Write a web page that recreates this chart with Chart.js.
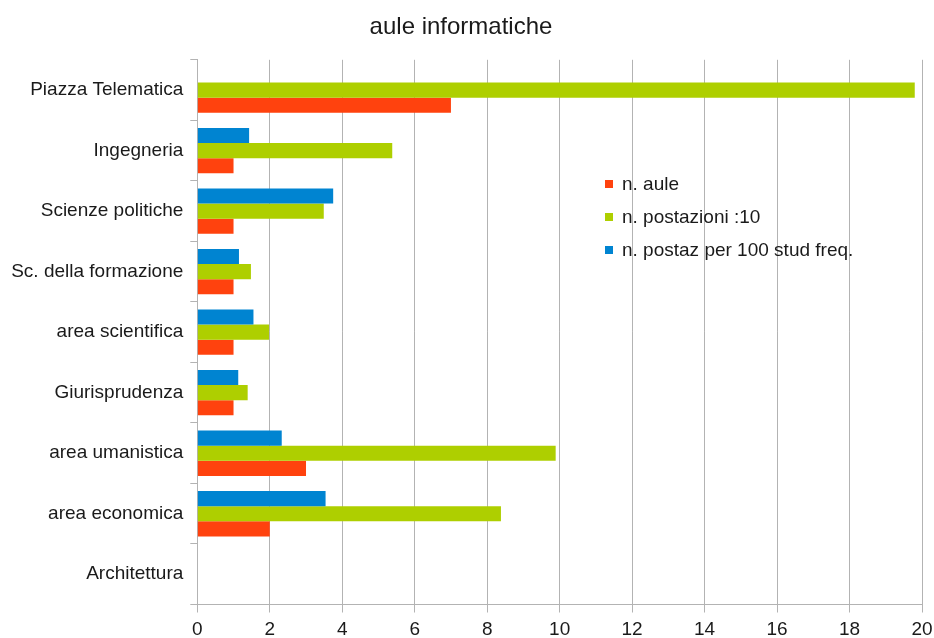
<!DOCTYPE html>
<html>
<head>
<meta charset="utf-8">
<title>aule informatiche</title>
<script src="https://cdn.jsdelivr.net/npm/chart.js@4/dist/chart.umd.min.js"></script>
<style>
  html, body { margin: 0; padding: 0; background: #fff; }
  #wrap { position: relative; width: 934px; height: 638px; }
</style>
</head>
<body>
<div id="wrap"><canvas id="chart"></canvas></div>
<script>
// Categories top to bottom, as in the reference
const categories = [
    'Piazza Telematica', 'Ingegneria', 'Scienze politiche', 'Sc. della formazione',
    'area scientifica', 'Giurisprudenza', 'area umanistica', 'area economica', 'Architettura'
];

// Series values (null = no bar)
const postazPer100 = [null, 1.43, 3.75, 1.15, 1.55, 1.13, 2.33, 3.54, null];
const postazioni10 = [19.8, 5.38, 3.49, 1.48, 1.98, 1.39, 9.89, 8.38, null];
const nAule        = [7, 1, 1, 1, 1, 1, 3, 2, null];

const xTicks = [0, 2, 4, 6, 8, 10, 12, 14, 16, 18, 20];

const FONT = '"Liberation Sans", Arial, Helvetica, sans-serif';
const GRID = '#b3b3b3';

// Legend drawn inside the plot area, in the reference order (aule, postazioni, postaz)
const insideLegend = {
    id: 'insideLegend',
    afterDraw(chart) {
        const ctx = chart.ctx;
        const order = [2, 1, 0];
        ctx.save();
        ctx.font = '19px ' + FONT;
        ctx.textBaseline = 'alphabetic';
        ctx.textAlign = 'left';
        order.forEach((di, i) => {
            const ds = chart.data.datasets[di];
            const y = 184 + i * 33;
            ctx.fillStyle = ds.backgroundColor;
            ctx.fillRect(605, y - 4, 8, 8);
            ctx.fillStyle = '#1a1a1a';
            ctx.fillText(ds.label, 622, y + 6);
        });
        ctx.restore();
    }
};

new Chart(document.getElementById('chart'), {
    type: 'bar',
    data: {
        labels: categories,
        datasets: [
            { label: 'n. postaz per 100 stud freq.', data: postazPer100, backgroundColor: '#0084d1' },
            { label: 'n. postazioni :10', data: postazioni10, backgroundColor: '#aecf00' },
            { label: 'n. aule', data: nAule, backgroundColor: '#ff420e' }
        ]
    },
    options: {
        indexAxis: 'y',
        responsive: true,
        maintainAspectRatio: false,
        animation: false,
        layout: { padding: { left: 0, right: 12, top: 0, bottom: 0 } },
        datasets: { bar: { barPercentage: 1.0, categoryPercentage: 0.75, borderWidth: 0 } },
        plugins: {
            legend: { display: false },
            tooltip: { enabled: false },
            title: {
                display: true,
                text: 'aule informatiche',
                color: '#1a1a1a',
                font: { family: FONT, size: 24, weight: 'normal' },
                padding: { top: 13, bottom: 18 }
            }
        },
        scales: {
            x: {
                min: 0,
                max: 20,
                afterBuildTicks: (s) => { s.ticks = xTicks.map(v => ({ value: v })); },
                afterFit: (s) => { s.height = 33.5; s.paddingLeft = 0; s.paddingRight = 0; },
                ticks: { color: '#1a1a1a', padding: 6, font: { family: FONT, size: 19 } },
                grid: { color: GRID, lineWidth: 1, tickLength: 8, drawTicks: true },
                border: { color: GRID, width: 1 }
            },
            y: {
                afterFit: (s) => { s.width = 197.3; },
                ticks: { color: '#1a1a1a', padding: 7, autoSkip: false, font: { family: FONT, size: 19 } },
                grid: { color: GRID, drawOnChartArea: false, drawTicks: true, tickLength: 7, offset: true },
                border: { color: GRID, width: 1 }
            }
        }
    },
    plugins: [insideLegend]
});
</script>
</body>
</html>
